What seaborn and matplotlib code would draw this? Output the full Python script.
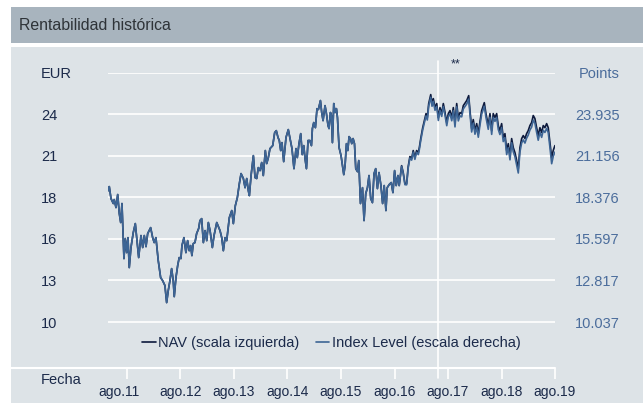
import numpy as np
import pandas as pd
import matplotlib
matplotlib.use("Agg")
import matplotlib.pyplot as plt
from matplotlib.patches import Rectangle
from matplotlib.lines import Line2D
from matplotlib.transforms import ScaledTranslation
import seaborn as sns

# ---- data -------------------------------------------------------------
# observation dates as decimal years
dates = [
    2011.236, 2011.255, 2011.287, 2011.330, 2011.348, 2011.380, 2011.412, 2011.442, 2011.468, 2011.492,
    2011.516, 2011.529, 2011.554, 2011.580, 2011.604, 2011.628, 2011.660, 2011.703, 2011.741, 2011.767,
    2011.804, 2011.847, 2011.879, 2011.909, 2011.941, 2011.972, 2012.028, 2012.066, 2012.095, 2012.127,
    2012.170, 2012.215, 2012.252, 2012.295, 2012.327, 2012.357, 2012.389, 2012.420, 2012.450, 2012.469,
    2012.501, 2012.533, 2012.562, 2012.594, 2012.613, 2012.650, 2012.687, 2012.719, 2012.749, 2012.775,
    2012.799, 2012.824, 2012.856, 2012.887, 2012.925, 2012.949, 2012.981,
    2013.011, 2013.042, 2013.074, 2013.104, 2013.136, 2013.179, 2013.210, 2013.261, 2013.322, 2013.354,
    2013.384, 2013.416, 2013.447, 2013.496, 2013.541, 2013.571, 2013.608, 2013.646, 2013.683, 2013.715,
    2013.758, 2013.790, 2013.821, 2013.851, 2013.870, 2013.902, 2013.945, 2013.976, 2014.008, 2014.038,
    2014.070, 2014.101, 2014.131, 2014.169, 2014.195, 2014.225, 2014.256, 2014.307, 2014.344, 2014.374,
    2014.406, 2014.430, 2014.456, 2014.480, 2014.512, 2014.555, 2014.598, 2014.630, 2014.667, 2014.704,
    2014.742, 2014.766, 2014.798, 2014.830,
    2014.859, 2014.887, 2014.911, 2014.937, 2014.967, 2014.999, 2015.031, 2015.049, 2015.074, 2015.105,
    2015.135, 2015.161, 2015.199, 2015.223, 2015.248, 2015.285, 2015.311, 2015.341, 2015.360, 2015.386,
    2015.405, 2015.423, 2015.448, 2015.472, 2015.498, 2015.517, 2015.547, 2015.584, 2015.610, 2015.635,
    2015.659, 2015.685, 2015.710, 2015.734, 2015.760, 2015.784, 2015.809, 2015.835, 2015.859, 2015.891,
    2015.915, 2015.947, 2015.985, 2016.014, 2016.046, 2016.078, 2016.107, 2016.139, 2016.171, 2016.201,
    2016.232, 2016.264, 2016.294, 2016.330, 2016.361, 2016.391, 2016.423, 2016.447, 2016.485, 2016.522,
    2016.554, 2016.585, 2016.615, 2016.647, 2016.671,
    2016.716, 2016.746, 2016.778, 2016.810, 2016.839, 2016.871, 2016.903, 2016.933, 2016.964, 2016.996,
    2017.026, 2017.045, 2017.071, 2017.108, 2017.138, 2017.170, 2017.194, 2017.220, 2017.258, 2017.282,
    2017.306, 2017.338, 2017.370, 2017.400, 2017.431, 2017.463, 2017.493, 2017.525, 2017.557, 2017.586,
    2017.618, 2017.650, 2017.680, 2017.711, 2017.743, 2017.773, 2017.805, 2017.836, 2017.866, 2017.930,
    2017.967, 2017.991,
    2018.023, 2018.053, 2018.085, 2018.117, 2018.147, 2018.178, 2018.210, 2018.259, 2018.290, 2018.333,
    2018.365, 2018.397, 2018.426, 2018.458, 2018.490, 2018.520, 2018.551, 2018.583, 2018.613, 2018.645,
    2018.677, 2018.707, 2018.739, 2018.770, 2018.800, 2018.832, 2018.864, 2018.894, 2018.925, 2018.957,
    2018.987, 2019.019, 2019.050, 2019.080, 2019.112, 2019.144, 2019.174, 2019.205, 2019.237, 2019.267,
    2019.299, 2019.331, 2019.361, 2019.392, 2019.424, 2019.454, 2019.486, 2019.518, 2019.547, 2019.579,
]

# NAV in EUR (left scale)
nav_values = [
    18.82, 19.09, 18.29, 17.96, 18.22, 17.69, 18.56, 17.29, 16.69, 17.96,
    15.68, 14.28, 15.62, 14.68, 15.68, 13.68, 15.02, 16.02, 16.62, 15.68,
    14.35, 15.82, 15.02, 15.82, 15.08, 15.95, 16.35, 15.68, 15.35, 15.68,
    14.15, 13.01, 12.81, 12.48, 11.34, 12.14, 12.81, 13.61, 12.81, 11.74,
    13.01, 13.81, 14.35, 14.28, 15.15, 15.68, 14.68, 15.48, 14.81, 15.15,
    14.48, 15.28, 15.35, 15.95, 16.29, 16.82, 16.95,
    15.35, 16.15, 15.48, 16.69, 16.15, 15.02, 15.82, 16.69, 16.15, 15.68,
    14.81, 15.68, 15.48, 17.02, 17.49, 16.62, 17.82, 18.36, 19.29, 19.96,
    19.63, 19.02, 19.63, 18.82, 18.49, 19.83, 21.16, 19.69, 19.63, 20.36,
    20.16, 20.70, 19.83, 21.50, 20.63, 21.03, 21.63, 21.83, 22.70, 22.83,
    22.37, 22.17, 21.50, 22.03, 20.76, 22.37, 22.90, 22.30, 21.63, 20.29,
    21.63, 21.03, 21.96, 22.63,
    21.23, 21.83, 20.96, 20.29, 22.17, 22.17, 21.83, 22.97, 23.37, 23.03,
    24.30, 24.24, 24.84, 24.04, 23.50, 24.50, 23.97, 23.17, 22.97, 24.04,
    23.84, 22.03, 24.64, 24.04, 24.30, 23.70, 21.70, 21.16, 20.49, 19.89,
    20.49, 21.96, 21.50, 22.43, 22.30, 21.96, 22.30, 21.96, 20.29, 20.09,
    20.83, 17.96, 19.02, 16.82, 18.62, 19.02, 19.83, 18.29, 18.02, 19.96,
    20.29, 18.96, 20.03, 19.16, 17.96, 19.16, 17.49, 19.02, 19.23, 19.36,
    18.69, 20.16, 19.16, 19.83, 19.16,
    20.49, 20.03, 19.29, 19.29, 20.43, 21.10, 20.96, 21.50, 21.03, 21.50,
    21.36, 21.70, 22.30, 23.03, 23.50, 23.97, 23.70, 24.64, 25.24, 24.64,
    24.97, 24.37, 24.64, 23.70, 24.37, 23.97, 24.64, 24.04, 23.37, 23.97,
    24.17, 23.70, 24.37, 23.30, 24.64, 23.70, 24.04, 23.97, 24.50, 24.84,
    25.17, 24.17,
    22.97, 23.57, 22.83, 23.30, 22.63, 23.43, 24.17, 24.70, 23.97, 23.17,
    23.97, 22.83, 23.97, 23.70, 23.97, 23.17, 22.83, 23.30, 22.37, 22.63,
    21.50, 21.96, 21.16, 22.30, 21.70, 21.36, 20.83, 20.29, 21.70, 22.30,
    22.50, 22.30, 22.63, 22.83, 23.17, 23.37, 23.84, 23.64, 23.03, 22.50,
    23.03, 22.70, 23.17, 23.03, 23.30, 23.03, 22.03, 21.03, 21.50, 21.83,
]

# Index level in points (right scale)
index_values = [
    18.82, 19.09, 18.29, 17.96, 18.22, 17.69, 18.56, 17.29, 16.69, 17.96,
    15.68, 14.28, 15.62, 14.68, 15.68, 13.68, 15.02, 16.02, 16.62, 15.68,
    14.35, 15.82, 15.02, 15.82, 15.08, 15.95, 16.35, 15.68, 15.35, 15.68,
    14.15, 13.01, 12.81, 12.48, 11.34, 12.14, 12.81, 13.61, 12.81, 11.74,
    13.01, 13.81, 14.35, 14.28, 15.15, 15.68, 14.68, 15.48, 14.81, 15.15,
    14.48, 15.28, 15.35, 15.95, 16.29, 16.82, 16.95,
    15.35, 16.15, 15.48, 16.69, 16.15, 15.02, 15.82, 16.69, 16.15, 15.68,
    14.81, 15.68, 15.48, 17.02, 17.49, 16.62, 17.82, 18.36, 19.29, 19.96,
    19.63, 19.02, 19.63, 18.82, 18.49, 19.83, 21.16, 19.69, 19.63, 20.36,
    20.16, 20.70, 19.83, 21.50, 20.63, 21.03, 21.63, 21.83, 22.70, 22.83,
    22.37, 22.17, 21.50, 22.03, 20.76, 22.37, 22.90, 22.30, 21.63, 20.29,
    21.63, 21.03, 21.96, 22.63,
    21.23, 21.83, 20.96, 20.29, 22.17, 22.17, 21.83, 22.97, 23.37, 23.03,
    24.30, 24.24, 24.84, 24.04, 23.50, 24.50, 23.97, 23.17, 22.97, 24.04,
    23.84, 22.03, 24.64, 24.04, 24.30, 23.70, 21.70, 21.16, 20.49, 19.89,
    20.49, 21.96, 21.50, 22.43, 22.30, 21.96, 22.30, 21.96, 20.29, 20.09,
    20.83, 17.96, 19.02, 16.82, 18.62, 19.02, 19.83, 18.29, 18.02, 19.96,
    20.29, 18.96, 20.03, 19.16, 17.96, 19.16, 17.49, 19.02, 19.23, 19.36,
    18.69, 20.16, 19.16, 19.83, 19.16,
    20.45, 19.97, 19.22, 19.21, 20.34, 21.00, 20.86, 21.39, 20.91, 21.38,
    21.23, 21.57, 22.16, 22.88, 23.35, 23.81, 23.54, 24.47, 25.06, 24.46,
    24.79, 24.19, 24.45, 23.51, 24.18, 23.78, 24.44, 23.84, 23.16, 23.76,
    23.96, 23.49, 24.16, 23.08, 24.42, 23.48, 23.82, 23.75, 24.28, 24.61,
    24.94, 23.94,
    22.74, 23.34, 22.59, 23.06, 22.39, 23.19, 23.93, 24.46, 23.72, 22.92,
    23.72, 22.58, 23.72, 23.45, 23.72, 22.91, 22.57, 23.04, 22.10, 22.36,
    21.23, 21.69, 20.88, 22.02, 21.42, 21.08, 20.54, 20.00, 21.41, 22.01,
    22.21, 22.00, 22.33, 22.53, 22.87, 23.07, 23.53, 23.33, 22.72, 22.19,
    22.72, 22.38, 22.85, 22.71, 22.98, 22.70, 21.70, 20.62, 21.10, 21.40,
]

y_ticks = [10.037, 12.817, 15.597, 18.376, 21.156, 23.935, 26.715]
left_labels = ["10", "13", "16", "18", "21", "24", "EUR"]
right_labels = ["10.037", "12.817", "15.597", "18.376", "21.156", "23.935", "Points"]
x_tick_years = [2011, 2012, 2013, 2014, 2015, 2016, 2017, 2018, 2019]
x_tick_labels = ["ago.11", "ago.12", "ago.13", "ago.14", "ago.15",
                 "ago.16", "ago.17", "ago.18", "ago.19"]
marker_date = 2017.400
series_names = ["NAV (scala izquierda)", "Index Level (escala derecha)"]


def to_timestamp(t):
    year = int(t)
    return pd.Timestamp(year, 1, 1) + pd.Timedelta(days=(t - year) * 365.25)


df = pd.DataFrame({
    "fecha": [to_timestamp(t) for t in dates],
    "nav": nav_values,
    "index": index_values,
})

# ---- style ------------------------------------------------------------
sns.set_style("white")
plt.rcParams["font.family"] = ["Liberation Sans", "DejaVu Sans"]

BG = "#dde3e7"
HEADER = "#a8b4be"
NAV_C = "#0d1a3d"
IDX_C = "#3d6595"
LEFT_TXT = "#1b2a4a"
RIGHT_TXT = "#4b6d9c"

W, H = 643, 403
fig = plt.figure(figsize=(W / 100, H / 100), dpi=100, facecolor="white")

# panel background, header band and title (kept behind the axes)
fig.add_artist(Rectangle((11 / W, 0), 1, (H - 46.5) / H, transform=fig.transFigure,
                         facecolor=BG, edgecolor="none", zorder=-10))
fig.add_artist(Rectangle((11 / W, (H - 42.7) / H), 1, 36 / H, transform=fig.transFigure,
                         facecolor=HEADER, edgecolor="none", zorder=-10))
fig.text(19 / W, (H - 25) / H, "Rentabilidad histórica", fontsize=11.4,
         color="#2e3338", ha="left", va="center")

# axes placement
left_px, right_px, top_px, bottom_px = 108, 555, 72.5, 368
ax = fig.add_axes([left_px / W, (H - bottom_px) / H,
                   (right_px - left_px) / W, (bottom_px - top_px) / H])
ax.set_facecolor("none")

sns.lineplot(data=df, x="fecha", y="nav", ax=ax, color=NAV_C, linewidth=1.2,
             label=series_names[0], legend=False)
ax2 = ax.twinx()
ax2.set_facecolor("none")
sns.lineplot(data=df, x="fecha", y="index", ax=ax2, color=IDX_C, linewidth=1.2,
             label=series_names[1], legend=False)

xmin, xmax = to_timestamp(2011.231), to_timestamp(2019.579)
for a in (ax, ax2):
    a.set_xlim(xmin, xmax)
    a.set_ylim(6.97, 26.715)
    a.set_yticks(y_ticks)
    for s in a.spines.values():
        s.set_visible(False)
    a.set_xlabel("")
    a.set_ylabel("")

ax.yaxis.grid(True, color="white", linewidth=1.2)
ax.xaxis.grid(False)
ax.set_axisbelow(True)
ax.set_yticklabels(left_labels)
ax.tick_params(axis="y", length=0, pad=67 * 0.72, labelsize=10.5, labelcolor=LEFT_TXT)
for lab in ax.get_yticklabels():
    lab.set_ha("left")

ax2.grid(False)
ax2.set_yticklabels(right_labels)
ax2.tick_params(axis="y", length=0, pad=65 * 0.72, labelsize=10.5, labelcolor=RIGHT_TXT)
for lab in ax2.get_yticklabels():
    lab.set_ha("right")

# x axis
ax.set_xticks([pd.Timestamp(y, 8, 1) for y in x_tick_years])
ax.set_xticklabels(x_tick_labels)
ax.tick_params(axis="x", direction="out", length=8, width=1.2, color="white",
               pad=4, labelsize=10, labelcolor=LEFT_TXT, bottom=True)
first = ax.get_xticklabels()[0]
first.set_transform(first.get_transform() + ScaledTranslation(-8 / 100, 0, fig.dpi_scale_trans))
ax2.tick_params(axis="x", length=0, labelbottom=False)

# axis base line running to the panel edge
fig.add_artist(Line2D([11 / W, right_px / W], [(H - bottom_px) / H] * 2,
                      transform=fig.transFigure, color="white", linewidth=1.5))
fig.text(41 / W, (H - 380) / H, "Fecha", fontsize=10.5, color=LEFT_TXT,
         ha="left", va="center")

# event marker
ax.axvline(to_timestamp(marker_date), ymin=-0.035, ymax=1.04, color="white",
           linewidth=1.2, clip_on=False, zorder=0.5)
ax.text(to_timestamp(marker_date + 0.32), 26.715 + 0.55, "**", fontsize=9,
        color=LEFT_TXT, ha="center", va="center")

# legend
handles = [Line2D([], [], color=NAV_C, linewidth=1.2),
           Line2D([], [], color=IDX_C, linewidth=1.2)]
ax2.legend(handles, series_names, loc="center", bbox_to_anchor=(0.5, 0.085),
           ncol=2, frameon=False, fontsize=10.5, handlelength=0.9,
           handletextpad=0.2, columnspacing=1.1, labelcolor=LEFT_TXT)

fig.savefig("out.png", dpi=100, facecolor="white")
